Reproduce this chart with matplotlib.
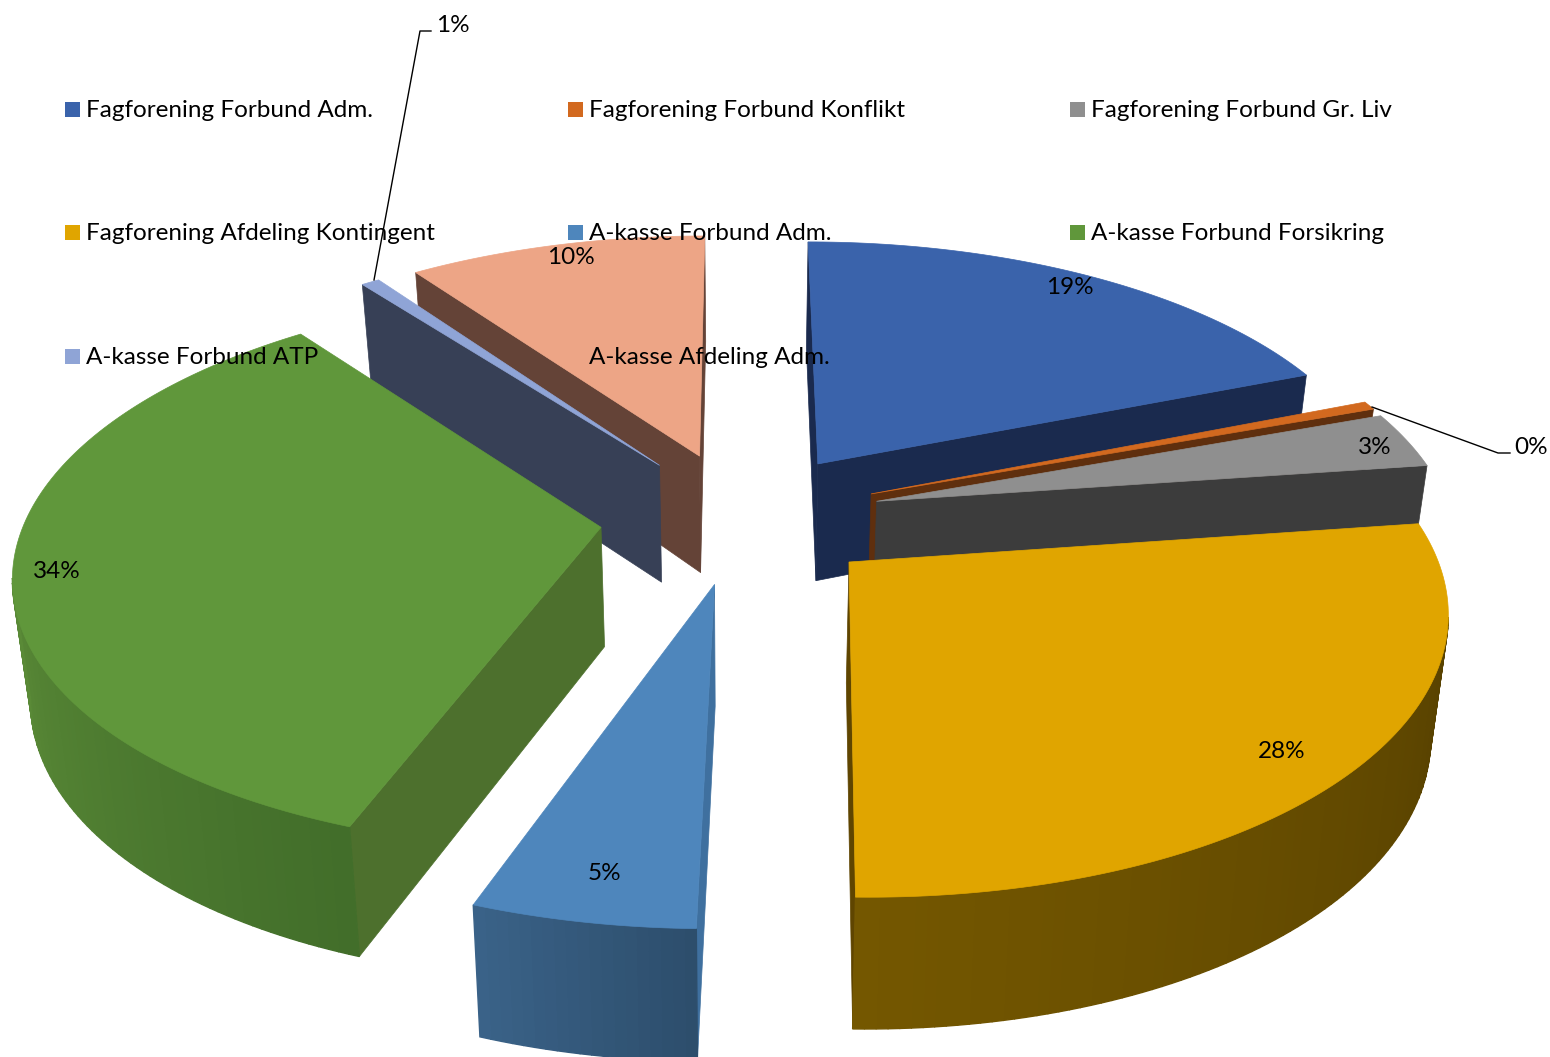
import numpy as np
import matplotlib
matplotlib.use('Agg')
import matplotlib.pyplot as plt
from matplotlib.patches import Polygon, Rectangle
from matplotlib.colors import to_rgb

# Data
categories = ['Fagforening Forbund Adm.', 'Fagforening Forbund Konflikt', 'Fagforening Forbund Gr. Liv',
              'Fagforening Afdeling Kontingent', 'A-kasse Forbund Adm.', 'A-kasse Forbund Forsikring',
              'A-kasse Forbund ATP', 'A-kasse Afdeling Adm.']
values = [19.0, 0.5, 3.3, 27.5, 5.2, 34.05, 0.6, 9.85]
labels = ['19%', '0%', '3%', '28%', '5%', '34%', '1%', '10%']

top_colors = ['#3A63AB', '#D2691F', '#8F8F8F', '#E0A500', '#4E86BC', '#60973B', '#8FA4D6', '#EDA586']
wall_colors = ['#1A2A4E', '#5F2F0E', '#3C3C3C', '#5F4500', '#3F709F', '#4D702D', '#374056', '#644337']
outer_light = ['#1A2A4E', '#5F2F0E', '#3C3C3C', '#745700', '#3A6288', '#5A8A37', '#374056', '#644337']
outer_dark = ['#1A2A4E', '#5F2F0E', '#3C3C3C', '#574100', '#2D4E6C', '#426E2A', '#374056', '#644337']

# back slices first, the front ones paint over them
draw_order = [7, 6, 0, 1, 2, 5, 3, 4]

# pixel position of the value labels
label_pos = [(1070, 287), (1531, 447), (1375, 447), (1282, 751), (604, 873), (57, 571), (453, 25), (571, 257)]

# projection of the tilted pie
cx, cy = 741, 517
scale_x, scale_y = 575, 270
persp = 0.15
explode = 0.245


def project(x, y, bottom=False):
    w = 1 + persp * y
    sx = scale_x * x / w
    sy = -scale_y * y / w
    if bottom:
        sx = sx * 0.975
        sy = sy + 119 - 11 * y
    return cx + sx, cy + sy


fig = plt.figure(figsize=(15.5, 10.57), dpi=100)
ax = fig.add_axes([0, 0, 1, 1])
ax.set_xlim(0, 1550)
ax.set_ylim(1057, 0)
ax.axis('off')

plt.rcParams['font.family'] = ['Lato', 'DejaVu Sans']

fractions = np.array(values) / 100 * 2 * np.pi
ends = np.cumsum(fractions)
starts = ends - fractions

for i in draw_order:
    mid = (starts[i] + ends[i]) / 2
    ox, oy = explode * np.sin(mid), explode * np.cos(mid)
    th = np.linspace(starts[i], ends[i], max(3, int(np.degrees(fractions[i])) + 2))
    ax_x = ox + np.sin(th)
    ax_y = oy + np.cos(th)

    top_x, top_y = project(ax_x, ax_y)
    low_x, low_y = project(ax_x, ax_y, bottom=True)
    tip_x, tip_y = project(ox, oy)
    tip_lx, tip_ly = project(ox, oy, bottom=True)

    # radial walls, only when they face us
    if top_x[0] < tip_x:
        ax.add_patch(Polygon([(tip_x, tip_y), (top_x[0], top_y[0]), (low_x[0], low_y[0]), (tip_lx, tip_ly)],
                             facecolor=wall_colors[i], edgecolor=wall_colors[i], lw=0.5))
    if tip_x < top_x[-1]:
        ax.add_patch(Polygon([(tip_x, tip_y), (top_x[-1], top_y[-1]), (low_x[-1], low_y[-1]), (tip_lx, tip_ly)],
                             facecolor=wall_colors[i], edgecolor=wall_colors[i], lw=0.5))

    # outer wall in small strips for the gradient
    front = [k for k in range(len(th) - 1) if top_x[k + 1] < top_x[k]]
    light = np.array(to_rgb(outer_light[i]))
    dark = np.array(to_rgb(outer_dark[i]))
    for n, k in enumerate(front):
        t = 1 - n / max(1, len(front) - 1)
        c = light + (dark - light) * t
        ax.add_patch(Polygon([(top_x[k], top_y[k]), (top_x[k + 1], top_y[k + 1]),
                              (low_x[k + 1], low_y[k + 1]), (low_x[k], low_y[k])],
                             facecolor=c, edgecolor=c, lw=1.0))

    # top face
    pts = [(tip_x, tip_y)] + list(zip(top_x, top_y))
    ax.add_patch(Polygon(pts, facecolor=top_colors[i], edgecolor=top_colors[i], lw=0.5))

# leader lines for the two small slices
ax.plot([374, 420, 431], [280, 31, 31], color='black', lw=1)
ax.plot([1372, 1498, 1510], [407, 453, 453], color='black', lw=1)

for i, txt in enumerate(labels):
    ax.text(label_pos[i][0], label_pos[i][1], txt, fontsize=17.5, ha='center', va='center', color='black')

# legend, three columns
leg_x = [65, 568, 1070]
leg_y = [109, 232, 356]
for i, name in enumerate(categories):
    x = leg_x[i % 3]
    y = leg_y[i // 3]
    ax.add_patch(Rectangle((x, y - 7), 15, 15, facecolor=top_colors[i], edgecolor='none'))
    ax.text(x + 21, y + 1.5, name, fontsize=17.5, ha='left', va='center', color='black')

fig.savefig('out.png', dpi=100)
